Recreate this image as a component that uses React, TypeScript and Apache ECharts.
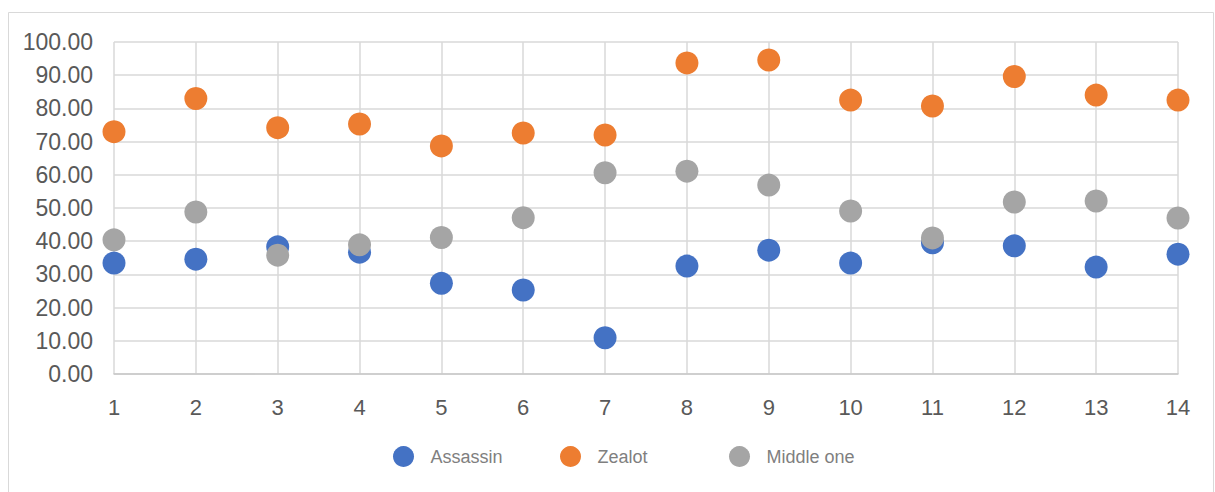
import React, { useEffect, useRef } from "react";
import * as echarts from "echarts";

const xValues = [1, 2, 3, 4, 5, 6, 7, 8, 9, 10, 11, 12, 13, 14];
const assassin = [33.4, 34.6, 38.3, 36.7, 27.3, 25.3, 10.9, 32.5, 37.3, 33.4, 39.5, 38.6, 32.2, 36.1];
const zealot = [73.0, 83.0, 74.2, 75.3, 68.7, 72.6, 72.0, 93.7, 94.6, 82.5, 80.7, 89.6, 84.0, 82.5];
const middleOne = [40.4, 48.8, 35.8, 38.9, 41.1, 47.1, 60.6, 61.1, 56.9, 49.1, 41.0, 51.8, 52.1, 47.0];
const seriesNames = ["Assassin", "Zealot", "Middle one"];
const colors = ["#4472C4", "#ED7D31", "#A5A5A5"];
const legendLefts = [393, 560, 729];

export default function App() {
  const ref = useRef<HTMLDivElement>(null);
  useEffect(() => {
    document.body.style.margin = "0";
    const chart = echarts.init(ref.current!, null, { renderer: "svg" });
    const all = [assassin, zealot, middleOne];
    chart.setOption({
      animation: false,
      backgroundColor: "#ffffff",
      graphic: [
        {
          type: "rect",
          shape: { x: 8.5, y: 12.5, width: 1205, height: 500 },
          style: { fill: "none", stroke: "#d9d9d9", lineWidth: 1 },
          silent: true,
          z: -1,
        },
      ],
      grid: { left: 114, right: 37, top: 42, bottom: 118 },
      legend: seriesNames.map((n, i) => ({
        top: 446,
        left: legendLefts[i],
        itemWidth: 44,
        itemHeight: 21,
        padding: 0,
        textStyle: { color: "#7f7f7f", fontSize: 18, fontFamily: "Liberation Sans" },
        data: [{ name: n, icon: "circle" }],
      })),
      xAxis: {
        type: "value",
        min: 1,
        max: 14,
        interval: 1,
        axisLine: { show: true, lineStyle: { color: "#c8c8c8", width: 1.5 } },
        axisTick: { show: false },
        axisLabel: { color: "#595959", fontSize: 22, margin: 22, fontFamily: "Liberation Sans" },
        splitLine: { show: true, lineStyle: { color: "#d9d9d9", width: 1.5 } },
      },
      yAxis: {
        type: "value",
        min: 0,
        max: 100,
        interval: 10,
        axisLine: { show: false },
        axisTick: { show: false },
        axisLabel: {
          color: "#595959",
          fontSize: 23,
          margin: 21,
          fontFamily: "Liberation Sans",
          formatter: (v: number) => v.toFixed(2),
        },
        splitLine: { show: true, lineStyle: { color: "#d9d9d9", width: 1.5 } },
      },
      series: seriesNames.map((name, i) => ({
        name,
        type: "scatter",
        symbol: "circle",
        symbolSize: 23,
        itemStyle: { color: colors[i], opacity: 1 },
        data: xValues.map((x, j) => [x, all[i][j]]),
      })),
    });
    return () => chart.dispose();
  }, []);
  return <div ref={ref} style={{ width: 1215, height: 492 }} />;
}
